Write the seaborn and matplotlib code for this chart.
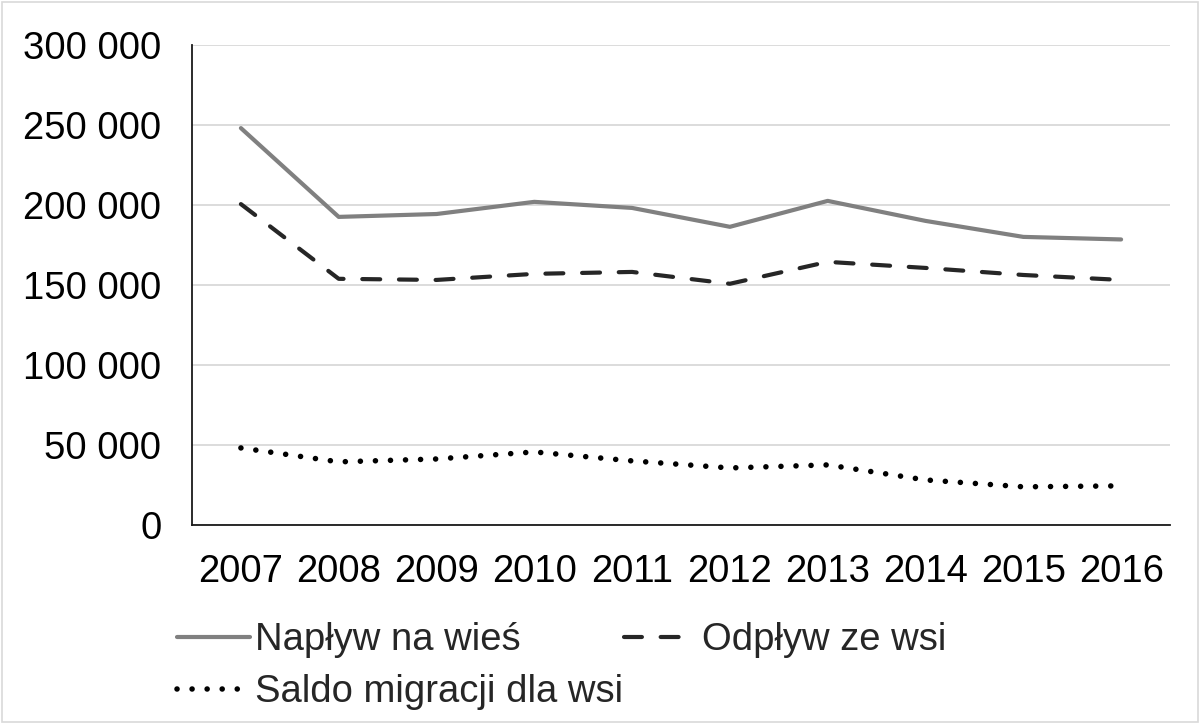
import matplotlib
matplotlib.use("Agg")
import matplotlib.pyplot as plt
import matplotlib.ticker as mticker
from matplotlib.patches import Rectangle
import pandas as pd
import seaborn as sns

years = [2007, 2008, 2009, 2010, 2011, 2012, 2013, 2014, 2015, 2016]
naplyw = [248000, 192500, 194300, 201900, 198100, 186300, 202500, 190000, 180000, 178400]
odplyw = [200500, 153800, 153100, 156900, 158100, 150700, 164400, 160600, 156200, 153100]
saldo = [48100, 39400, 41200, 45600, 40000, 35600, 37500, 28100, 23800, 24400]
labels = ["Napływ na wieś", "Odpływ ze wsi", "Saldo migracji dla wsi"]

sns.set_style("white")
plt.rcParams["font.family"] = ["Liberation Sans", "DejaVu Sans"]

fig = plt.figure(figsize=(12, 7.24), dpi=100)
ax = fig.add_axes([0.16, 0.275, 0.815, 0.663])

styles = [
    dict(color="#808080", linestyle="-", solid_capstyle="round", linewidth=3),
    dict(color="#262626", linestyle=(0, (4.3, 4.5)), dash_capstyle="round", linewidth=3),
    dict(color="#000000", linestyle=(0, (0.01, 2.7)), dash_capstyle="round", linewidth=4),
]
for vals, lab, st in zip([naplyw, odplyw, saldo], labels, styles):
    df = pd.DataFrame({"year": years, "value": vals})
    sns.lineplot(data=df, x="year", y="value", ax=ax, label=lab, **st)

ax.set_xlim(2006.5, 2016.5)
ax.set_ylim(0, 300000)
ax.set_xticks(years)
ax.set_yticks(range(0, 300001, 50000))
ax.yaxis.set_major_formatter(
    mticker.FuncFormatter(lambda v, p: f"{int(v):,}".replace(",", " "))
)
ax.grid(axis="y", color="#d9d9d9", linewidth=1.3)
ax.set_xlabel("")
ax.set_ylabel("")
ax.tick_params(axis="both", labelsize=27.5, length=0, colors="#000000")
ax.tick_params(axis="x", pad=21)
ax.tick_params(axis="y", pad=22)
for s in ["top", "right"]:
    ax.spines[s].set_visible(False)
for s in ["left", "bottom"]:
    ax.spines[s].set_color("#1a1a1a")
    ax.spines[s].set_linewidth(1.3)

handles, labs = ax.get_legend_handles_labels()
ax.get_legend().remove()
order = [0, 2, 1]
fig.legend([handles[i] for i in order], [labs[i] for i in order],
           loc="upper left", bbox_to_anchor=(0.119, 0.188),
           ncol=2, frameon=False, fontsize=27.5, handlelength=1.9,
           handletextpad=0.15, columnspacing=0.0, labelspacing=0.42)

fig.patches.append(Rectangle((0.002, 0.003), 0.996, 0.994, transform=fig.transFigure,
                             fill=False, edgecolor="#d9d9d9", linewidth=1.2))

fig.savefig("out.png", dpi=100)
